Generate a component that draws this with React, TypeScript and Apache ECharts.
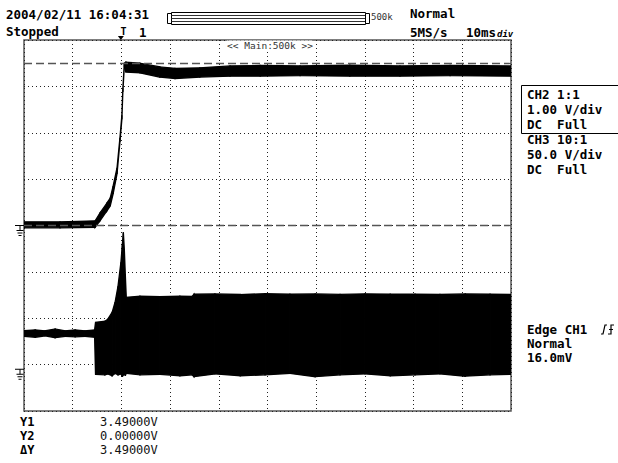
import React, { useEffect, useRef } from "react";
import * as echarts from "echarts";

// ---- data (read from the screen capture) ----
// time axis in ms (10 ms/div, trigger at 0 = 2nd division)
const xRange = [-20, 80];
const xInterval = 10;
// CH2: 1.00 V/div, ground at centre
const ch2Range = [-4, 4];
// CH3: 50.0 V/div, ground ~3.1 div below centre
const ch3Range = [-45, 355];

const ch2Time = [-20, -12.6, -5.4, -4.4, -3.0, -2.3, -1.7, -0.9, -0.3, 0.1, 0.3, 0.6, 0.9, 3.8, 7.9, 11.0, 16.1, 22.3, 28.5, 36.7, 46.9, 57.2, 67.5, 80];
const ch2High = [0.08, 0.08, 0.1, 0.27, 0.48, 0.59, 0.85, 1.24, 1.89, 2.38, 2.96, 3.5, 3.52, 3.5, 3.42, 3.39, 3.4, 3.44, 3.45, 3.44, 3.46, 3.44, 3.45, 3.44];
const ch2Low = [-0.05, -0.05, -0.04, 0.1, 0.31, 0.42, 0.68, 1.11, 1.8, 2.29, 2.88, 3.43, 3.31, 3.29, 3.2, 3.17, 3.2, 3.22, 3.22, 3.23, 3.22, 3.22, 3.23, 3.22];

const ch3Time = [-20, -17.7, -15.7, -13.6, -11.6, -9.5, -7.5, -5.5, -5.3, -3.4, -2.8, -1.9, -1.3, -0.7, -0.1, 0.2, 0.4, 0.6, 0.8, 1.0, 3.8, 7.9, 12.0, 14.5, 14.9, 19.2, 24.4, 29.5, 34.6, 39.8, 44.9, 50.0, 55.2, 60.3, 65.4, 70.6, 75.7, 80];
const ch3High = [41.5, 42.5, 41.5, 43.5, 41.5, 42.5, 41.5, 42.5, 50.7, 51.7, 53.9, 61.4, 72.2, 89.5, 115.3, 134.8, 147.7, 129.4, 102.4, 77.6, 78.7, 78.2, 78.7, 78.5, 80.9, 81.2, 80.6, 81.5, 80.9, 81.2, 80.7, 81.3, 80.9, 81.0, 80.6, 81.2, 80.9, 80.8];
const ch3Low = [35.5, 34.5, 36, 34, 35.5, 35, 35.5, 34.5, -5.5, -6, -5, -7, -4.5, -6, -5, -8, -6, -5, -7, -4.5, -6, -5.5, -7, -6, -8, -5, -7, -6, -4.5, -8, -6, -5, -7, -6, -5, -7.5, -6, -5.5];

// cursor levels on CH2 (V)
const cursorLevels = [3.49, 0];

// texts
const headerDate = "2004/02/11 16:04:31";
const runState = "Stopped";
const triggerLabel = "1";
const memLabel = "500k";
const triggerMode = "Normal";
const sampleRate = "5MS/s";
const timeDiv = "10ms";
const zoomLabel = "<< Main:500k >>";
const ch2Info = ["CH2 1:1", "1.00 V/div", "DC  Full"];
const ch3Info = ["CH3 10:1", "50.0 V/div", "DC  Full"];
const trigInfo = ["Edge CH1", "Normal", "16.0mV"];
const cursorNames = ["Y1", "Y2", "ΔY"];
const cursorReadouts = ["3.49000V", "0.00000V", "3.49000V"];

const MONO = '"DejaVu Sans Mono", monospace';

function segments(t: number[], lo: number[], hi: number[]) {
  const out: number[][] = [];
  for (let i = 0; i < t.length - 1; i++) {
    out.push([t[i], lo[i], hi[i], t[i + 1], lo[i + 1], hi[i + 1]]);
  }
  return out;
}

function bandSeries(name: string, t: number[], lo: number[], hi: number[], yAxisIndex: number, extra: any = {}) {
  return {
    name,
    type: "custom",
    yAxisIndex,
    xAxisIndex: 0,
    dimensions: ["t0", "lo0", "hi0", "t1", "lo1", "hi1"],
    encode: { x: [0, 3], y: [1, 2, 4, 5] },
    data: segments(t, lo, hi),
    silent: true,
    clip: true,
    renderItem: (_params: any, api: any) => {
      const a = api.coord([api.value(0), api.value(1)]);
      const b = api.coord([api.value(3), api.value(4)]);
      const c = api.coord([api.value(3), api.value(5)]);
      const d = api.coord([api.value(0), api.value(2)]);
      return {
        type: "polygon",
        shape: { points: [a, b, c, d] },
        style: { fill: "#000", stroke: "#000", lineWidth: 1.3 },
      };
    },
    ...extra,
  };
}

function txt(x: number, y: number, text: string, size: number, weight = "bold", fill = "#000", align = "left", style = "normal") {
  return {
    type: "text",
    x,
    y,
    silent: true,
    style: {
      text,
      font: `${style} ${weight} ${size}px ${MONO}`,
      fill,
      textAlign: align,
      textVerticalAlign: "middle",
      align,
      verticalAlign: "middle",
    },
  };
}

function line(x1: number, y1: number, x2: number, y2: number, stroke = "#000", w = 1) {
  return { type: "line", silent: true, shape: { x1, y1, x2, y2 }, style: { stroke, lineWidth: w } };
}

function groundSymbol(y: number) {
  return [
    line(15, y, 24, y, "#000", 1),
    line(20, y, 20, y + 5, "#000", 1),
    line(16.5, y + 5, 23.5, y + 5, "#000", 1),
    line(17.5, y + 7.5, 22.5, y + 7.5, "#000", 1),
    line(18.5, y + 10, 21.5, y + 10, "#000", 1),
  ];
}

export default function App() {
  const ref = useRef<HTMLDivElement>(null);

  useEffect(() => {
    if (!ref.current) return;
    const chart = echarts.init(ref.current, undefined, { renderer: "svg" });
    const dotted = { show: true, lineStyle: { color: "#222", width: 1, type: [1, 3] } };
    chart.setOption({
      animation: false,
      backgroundColor: "#fff",
      grid: { left: 24, top: 40, width: 487, height: 371, show: true, borderColor: "#555", borderWidth: 1.5, backgroundColor: "transparent" },
      xAxis: {
        type: "value",
        min: xRange[0],
        max: xRange[1],
        interval: xInterval,
        axisLine: { show: false },
        axisTick: { show: false },
        axisLabel: { show: false },
        splitLine: dotted,
      },
      yAxis: [
        {
          type: "value",
          min: ch2Range[0],
          max: ch2Range[1],
          interval: 1,
          axisLine: { show: false },
          axisTick: { show: false },
          axisLabel: { show: false },
          splitLine: dotted,
        },
        {
          type: "value",
          min: ch3Range[0],
          max: ch3Range[1],
          show: false,
          splitLine: { show: false },
        },
      ],
      series: [
        bandSeries("CH3", ch3Time, ch3Low, ch3High, 1),
        bandSeries("CH2", ch2Time, ch2Low, ch2High, 0, {
          markLine: {
            silent: true,
            animation: false,
            symbol: ["none", "none"],
            label: { show: false },
            lineStyle: { color: "#555", type: [8, 4], width: 1.3 },
            data: cursorLevels.map((v) => ({ yAxis: v })),
          },
        }),
      ],
    });

    const g2 = chart.convertToPixel({ yAxisIndex: 0 } as any, 0) as number;
    const g3 = chart.convertToPixel({ yAxisIndex: 1 } as any, 0) as number;
    const tx = chart.convertToPixel({ xAxisIndex: 0 } as any, 0) as number;

    const graphics: any[] = [
      txt(6, 14.5, headerDate, 12.5),
      txt(6, 31, runState, 12.5),
      // trigger position marker
      txt(tx - 1, 31, "T", 10, "bold"),
      { type: "polygon", silent: true, shape: { points: [[tx - 3.5, 36], [tx + 2.5, 36], [tx - 0.5, 40]] }, style: { fill: "#000" } },
      txt(139, 32, triggerLabel, 12.5),
      // memory bar
      { type: "rect", silent: true, shape: { x: 167.5, y: 13.5, width: 4, height: 10 }, style: { fill: "#fff", stroke: "#000", lineWidth: 1 } },
      { type: "rect", silent: true, shape: { x: 171.5, y: 12.5, width: 194, height: 12 }, style: { fill: "#fff", stroke: "#000", lineWidth: 1 } },
      line(171.5, 15.5, 365.5, 15.5, "#333", 1),
      line(171.5, 18.5, 365.5, 18.5, "#333", 1),
      line(171.5, 21.5, 365.5, 21.5, "#333", 1),
      { type: "rect", silent: true, shape: { x: 365.5, y: 13.5, width: 4, height: 10 }, style: { fill: "#fff", stroke: "#000", lineWidth: 1 } },
      txt(371, 17, memLabel, 9, "normal", "#333"),
      txt(410, 13, triggerMode, 12.5),
      txt(410, 32, sampleRate, 12.5),
      txt(466, 32, timeDiv, 12.5),
      txt(497, 33.5, "div", 9, "bold", "#000", "left", "italic"),
      {
        type: "text",
        x: 270,
        y: 45.5,
        silent: true,
        style: {
          text: zoomLabel,
          font: `normal 9.5px ${MONO}`,
          fill: "#333",
          textAlign: "center",
          textVerticalAlign: "middle",
          align: "center",
          verticalAlign: "middle",
          backgroundColor: "#fff",
        },
      },
      // channel info box
      { type: "rect", silent: true, shape: { x: 521.5, y: 85.5, width: 100, height: 48 }, style: { fill: "none", stroke: "#000", lineWidth: 1 } },
      ...ch2Info.map((s, i) => txt(527, 94 + i * 15, s, 12.5)),
      ...ch3Info.map((s, i) => txt(527, 139 + i * 15, s, 12.5)),
      ...trigInfo.map((s, i) => txt(527, 329 + i * 14, s, 12.5)),
      { type: "polyline", silent: true, shape: { points: [[601, 334], [603, 334], [605, 325], [607, 325]] }, style: { stroke: "#000", lineWidth: 1.2, fill: "none" } },
      { type: "polyline", silent: true, shape: { points: [[608, 334], [611, 334], [611, 325], [614, 325]] }, style: { stroke: "#000", lineWidth: 1.2, fill: "none" } },
      line(609, 329.5, 613, 329.5, "#000", 1),
      ...cursorNames.map((s, i) => txt(20, 422 + i * 14, s, 12)),
      ...cursorReadouts.map((s, i) => txt(100, 422 + i * 14, s, 12, "normal", "#111")),
      ...groundSymbol(g2),
      ...groundSymbol(g3),
    ];
    chart.setOption({ graphic: graphics });

    return () => chart.dispose();
  }, []);

  return (
    <div
      ref={ref}
      style={{ position: "absolute", left: 0, top: 0, width: 618, height: 463, background: "#fff" }}
    />
  );
}
